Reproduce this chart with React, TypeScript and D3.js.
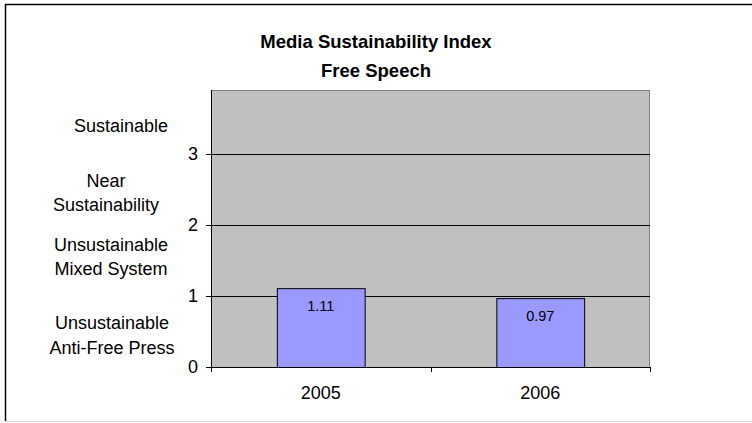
import React from "react";
import * as d3 from "d3";

// Survey years and the Free Speech score for each
const years = ["2005", "2006"];
const scores = [1.11, 0.97];

// Value axis ticks
const yTicks = [0, 1, 2, 3];

// Rating bands shown beside the value axis, each placed at a level on the index
const bandNames = [
  ["Unsustainable", "Anti-Free Press"],
  ["Unsustainable", "Mixed System"],
  ["Near", "Sustainability"],
  ["Sustainable"],
];
const bandLevels = [0.44, 1.55, 2.45, 3.4];

const titleLines = ["Media Sustainability Index", "Free Speech"];

const W = 752;
const H = 423;
const plot = { left: 211, right: 650, top: 90, bottom: 367 };
const FONT = "Arial, 'Liberation Sans', Helvetica, sans-serif";

export default function App() {
  const x = d3
    .scaleBand<string>()
    .domain(years)
    .range([plot.left, plot.right])
    .paddingInner(0.6)
    .paddingOuter(0.3);

  const y = d3.scaleLinear().domain([0, 3.9]).range([plot.bottom, plot.top]);

  const step = x.step();
  const catTicks = [plot.left, ...years.map((d) => (x(d) as number) - (step - x.bandwidth()) / 2 + step)];
  const bandCenterX = [112, 111, 106, 121];

  return (
    <svg
      width={W}
      height={H}
      style={{ position: "absolute", left: 0, top: 0, background: "#fff" }}
      fontFamily={FONT}
    >
      {/* chart frame */}
      <line x1={5} y1={4.5} x2={W} y2={4.5} stroke="#000" strokeWidth={1.5} />
      <line x1={5.5} y1={4} x2={5.5} y2={421} stroke="#000" strokeWidth={1.5} />
      <line x1={5} y1={421.5} x2={W} y2={421.5} stroke="#d8d8d8" strokeWidth={1} />

      {/* title */}
      {titleLines.map((t, i) => (
        <text
          key={t}
          x={376}
          y={48 + i * 29}
          textAnchor="middle"
          fontWeight="bold"
          fontSize={18.5}
          fill="#000"
        >
          {t}
        </text>
      ))}

      {/* plot area */}
      <rect
        x={plot.left}
        y={plot.top}
        width={plot.right - plot.left}
        height={plot.bottom - plot.top}
        fill="#c0c0c0"
      />
      <line x1={plot.left} y1={plot.top + 0.5} x2={plot.right} y2={plot.top + 0.5} stroke="#808080" />
      <line x1={plot.right - 0.5} y1={plot.top} x2={plot.right - 0.5} y2={plot.bottom} stroke="#808080" />

      {/* gridlines */}
      {yTicks
        .filter((t) => t > 0)
        .map((t) => (
          <line
            key={t}
            x1={plot.left}
            x2={plot.right}
            y1={Math.round(y(t)) + 0.5}
            y2={Math.round(y(t)) + 0.5}
            stroke="#000"
          />
        ))}

      {/* bars */}
      {years.map((yr, i) => (
        <g key={yr}>
          <rect
            x={(x(yr) as number) + 0.5}
            y={y(scores[i]) + 0.5}
            width={x.bandwidth()}
            height={y(0) - y(scores[i])}
            fill="#9999ff"
            stroke="#000"
            strokeWidth={1}
          />
          <text
            x={(x(yr) as number) + x.bandwidth() / 2}
            y={y(scores[i]) + 23}
            textAnchor="middle"
            fontSize={14.5}
            fill="#000"
          >
            {scores[i].toFixed(2)}
          </text>
        </g>
      ))}

      {/* value axis */}
      <line x1={plot.left + 0.5} y1={plot.top} x2={plot.left + 0.5} y2={plot.bottom} stroke="#000" />
      {yTicks.map((t) => (
        <g key={t}>
          <line
            x1={plot.left - 5}
            x2={plot.left}
            y1={Math.round(y(t)) + 0.5}
            y2={Math.round(y(t)) + 0.5}
            stroke="#000"
          />
          <text x={plot.left - 13} y={y(t) + 6} textAnchor="end" fontSize={18} fill="#000">
            {t}
          </text>
        </g>
      ))}

      {/* category axis */}
      <line x1={plot.left} y1={plot.bottom + 0.5} x2={plot.right} y2={plot.bottom + 0.5} stroke="#000" />
      {catTicks.map((cx, i) => (
        <line
          key={i}
          x1={Math.round(cx) + 0.5}
          x2={Math.round(cx) + 0.5}
          y1={plot.bottom}
          y2={plot.bottom + 5}
          stroke="#000"
        />
      ))}
      {years.map((yr) => (
        <text
          key={yr}
          x={(x(yr) as number) + x.bandwidth() / 2}
          y={plot.bottom + 32}
          textAnchor="middle"
          fontSize={18}
          fill="#000"
        >
          {yr}
        </text>
      ))}

      {/* rating band names */}
      {bandNames.map((lines, i) => (
        <text key={i} textAnchor="middle" fontSize={18} fill="#000">
          {lines.map((ln, j) => (
            <tspan
              key={j}
              x={bandCenterX[i]}
              y={y(bandLevels[i]) + 6 + (j - (lines.length - 1) / 2) * 24.5}
            >
              {ln}
            </tspan>
          ))}
        </text>
      ))}
    </svg>
  );
}
